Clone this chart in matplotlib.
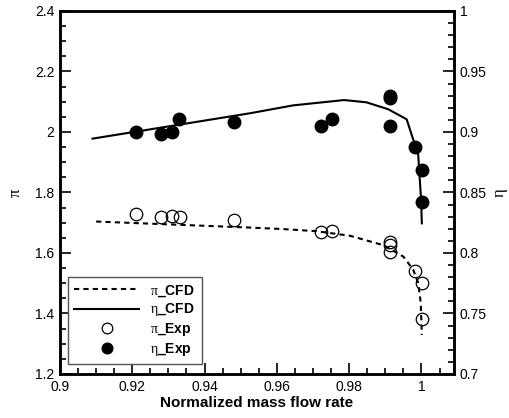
import numpy as np
import matplotlib.pyplot as plt
from matplotlib.ticker import MultipleLocator, FormatStrFormatter

plt.rcParams['font.family'] = ['Liberation Sans', 'DejaVu Sans']
plt.rcParams['mathtext.fontset'] = 'custom'
plt.rcParams['mathtext.rm'] = 'Liberation Serif'

# CFD curves
pi_cfd_x = [0.910, 0.9526, 0.9618, 0.971, 0.9802, 0.9894, 0.995, 0.9977, 0.9991, 0.9998, 1.0001]
pi_cfd_y = [1.704, 1.684, 1.679, 1.672, 1.657, 1.626, 1.588, 1.545, 1.501, 1.435, 1.329]
eta_cfd_x = [0.909, 0.9526, 0.9645, 0.9786, 0.9848, 0.9908, 0.9959, 0.998, 0.9991, 0.9999, 1.0001]
eta_cfd_y = [0.8945, 0.9155, 0.922, 0.9264, 0.9245, 0.9188, 0.9105, 0.8912, 0.881, 0.8438, 0.8245]

# experimental points
pi_exp_x = [0.921, 0.928, 0.9309, 0.9332, 0.9482, 0.9721, 0.9752, 0.9913, 0.9913, 0.9913, 0.9981, 1.0001, 1.0001]
pi_exp_y = [1.729, 1.718, 1.723, 1.718, 1.709, 1.668, 1.674, 1.635, 1.626, 1.602, 1.540, 1.500, 1.381]
eta_exp_x = [0.921, 0.928, 0.9311, 0.9330, 0.9482, 0.9721, 0.9752, 0.9913, 0.9913, 0.9913, 0.9981, 1.0001, 1.0001]
eta_exp_y = [0.900, 0.898, 0.900, 0.911, 0.908, 0.905, 0.9105, 0.930, 0.928, 0.905, 0.8876, 0.8686, 0.842]

fig = plt.figure(figsize=(5.1, 4.18), dpi=100)
ax = fig.add_axes([0.1176, 0.1053, 0.7726, 0.8684])
ax2 = ax.twinx()

l1, = ax.plot(pi_cfd_x, pi_cfd_y, 'k--', lw=1.5, dashes=(2.5, 2))
l2, = ax2.plot(eta_cfd_x, eta_cfd_y, 'k-', lw=1.5)
p1, = ax.plot(pi_exp_x, pi_exp_y, 'o', mfc='none', mec='k', mew=0.9, ms=9)
p2, = ax2.plot(eta_exp_x, eta_exp_y, 'o', mfc='k', mec='k', ms=9)

ax.set_xlim(0.9, 1.009)
ax.set_ylim(1.2, 2.4)
ax2.set_ylim(0.7, 1.0)

ax.xaxis.set_major_locator(MultipleLocator(0.02))
ax.xaxis.set_minor_locator(MultipleLocator(0.005))
ax.yaxis.set_major_locator(MultipleLocator(0.2))
ax.yaxis.set_minor_locator(MultipleLocator(0.05))
ax2.yaxis.set_major_locator(MultipleLocator(0.05))
ax2.yaxis.set_minor_locator(MultipleLocator(0.01))
for a in (ax.xaxis, ax.yaxis, ax2.yaxis):
    a.set_major_formatter(FormatStrFormatter('%g'))

ax.tick_params(which='both', direction='in', top=False, right=False, labelsize=10, pad=4, width=1.2)
ax.tick_params(which='major', length=8)
ax.tick_params(which='minor', length=4)
ax2.tick_params(which='both', direction='in', labelsize=10, pad=4, width=1.2)
ax2.tick_params(which='major', length=8)
ax2.tick_params(which='minor', length=4)
for a in (ax, ax2):
    for s in a.spines.values():
        s.set_linewidth(1.8)

ax.set_xlabel('Normalized mass flow rate', fontsize=11, fontweight='bold', labelpad=2)
ax.set_ylabel('π', family='Liberation Serif', fontsize=12, labelpad=8)
ax2.set_ylabel('η', family='Liberation Serif', fontsize=12, labelpad=4)

leg = ax.legend([l1, l2, p1, p2],
                [r'$\mathrm{\pi}$_CFD', r'$\mathrm{\eta}$_CFD', r'$\mathrm{\pi}$_Exp', r'$\mathrm{\eta}$_Exp'],
                loc='lower left', bbox_to_anchor=(0.02, 0.027), borderaxespad=0,
                prop={'weight': 'bold', 'size': 10}, handlelength=4.7, handletextpad=0.8,
                labelspacing=0.2, borderpad=0.45, markerscale=0.85,
                fancybox=False, framealpha=1, edgecolor='#555555')
leg.get_frame().set_linewidth(1.0)

fig.savefig('out.png', dpi=100)
